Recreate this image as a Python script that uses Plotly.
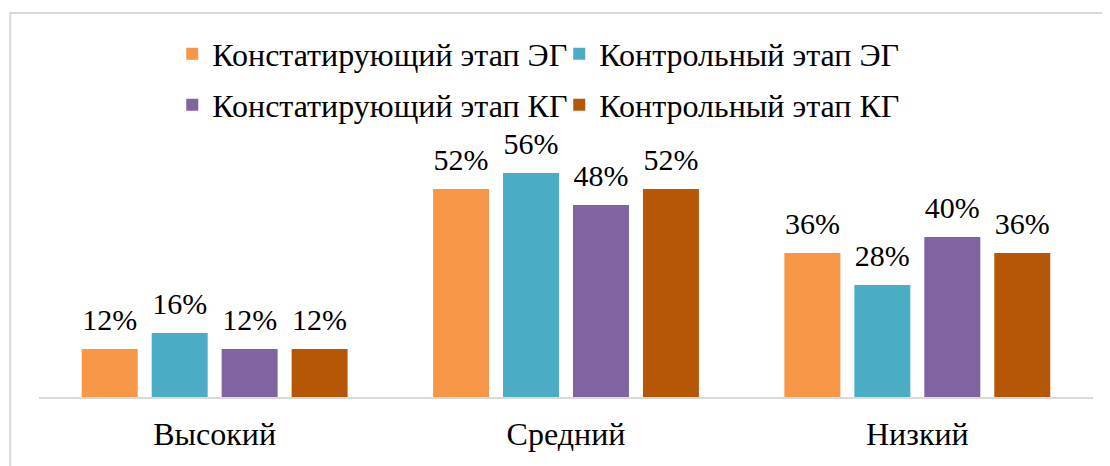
import plotly.graph_objects as go

categories = ["Высокий", "Средний", "Низкий"]
series_names = ["Констатирующий этап ЭГ", "Контрольный этап ЭГ",
                "Констатирующий этап КГ", "Контрольный этап КГ"]
values_const_eg = [0.12, 0.52, 0.36]
values_ctrl_eg = [0.16, 0.56, 0.28]
values_const_kg = [0.12, 0.48, 0.40]
values_ctrl_kg = [0.12, 0.52, 0.36]
colors = ["#F79646", "#4BACC6", "#8064A2", "#B65708"]

all_values = [values_const_eg, values_ctrl_eg, values_const_kg, values_ctrl_kg]
legend_ids = ["legend", "legend2", "legend3", "legend4"]

FONT = "Liberation Serif"

# page has an 8px body margin: work in reference pixels, shift by OFF
OFF = 8
W, H = 1110 - OFF, 466 - OFF
ml, mr, mt, mb = 38.75 - OFF, 17.25, 157 - OFF, 69
pw = W - ml - mr
ph = H - mt - mb
GAP = 0.2034

def px2x(px):
    return (px - OFF - ml) / pw

def py2y(py):
    return (H - mb - (py - OFF)) / ph

fig = go.Figure()
for i, (name, vals, col, lg) in enumerate(zip(series_names, all_values, colors, legend_ids)):
    fig.add_trace(go.Bar(
        x=categories, y=vals, name=name, marker=dict(color=col, line=dict(width=0)),
        legend=lg, offsetgroup=f"bar{i}", alignmentgroup="bars",
    ))
for i, vals in enumerate(all_values):
    # value labels, grouped like the bars
    fig.add_trace(go.Scatter(
        x=categories, y=vals, mode="markers+text",
        offsetgroup=f"lbl{i}", alignmentgroup="labels",
        text=[f"{v:.0%}" for v in vals], textposition="top center",
        textfont=dict(family=FONT, size=30, color="#000000"),
        marker=dict(size=17, color="rgba(0,0,0,0)"),
        showlegend=False, hoverinfo="skip", cliponaxis=False,
    ))

legend_pos = [(172, 54), (559, 54), (172, 105), (559, 105)]
legend_cfg = {}
for lg, (lx, ly) in zip(legend_ids, legend_pos):
    legend_cfg[lg] = dict(
        x=px2x(lx), y=py2y(ly), xanchor="left", yanchor="middle",
        orientation="h", font=dict(family=FONT, size=32, color="#000000"),
        bgcolor="rgba(0,0,0,0)", borderwidth=0, itemclick=False,
    )

fig.update_layout(
    width=W, height=H,
    margin=dict(l=ml, r=mr, t=mt, b=mb, pad=0),
    paper_bgcolor="#ffffff", plot_bgcolor="#ffffff",
    barmode="group", bargap=GAP, bargroupgap=0.2,
    scattermode="group", scattergap=GAP,
    showlegend=True,
    font=dict(family=FONT, size=30, color="#000000"),
    xaxis=dict(showline=True, linecolor="#D9D9D9", linewidth=2, ticks="",
               tickfont=dict(family=FONT, size=32, color="#000000"),
               showgrid=False, zeroline=False, ticklabelstandoff=8),
    yaxis=dict(range=[0, 0.6], visible=False, showgrid=False, zeroline=False),
    **legend_cfg,
)

# chart border
fig.add_shape(type="rect", xref="paper", yref="paper",
              x0=px2x(10), x1=px2x(1120), y0=py2y(480), y1=py2y(13),
              line=dict(color="#D9D9D9", width=2), fillcolor="rgba(0,0,0,0)", layer="below")

fig.write_html("out.html")
